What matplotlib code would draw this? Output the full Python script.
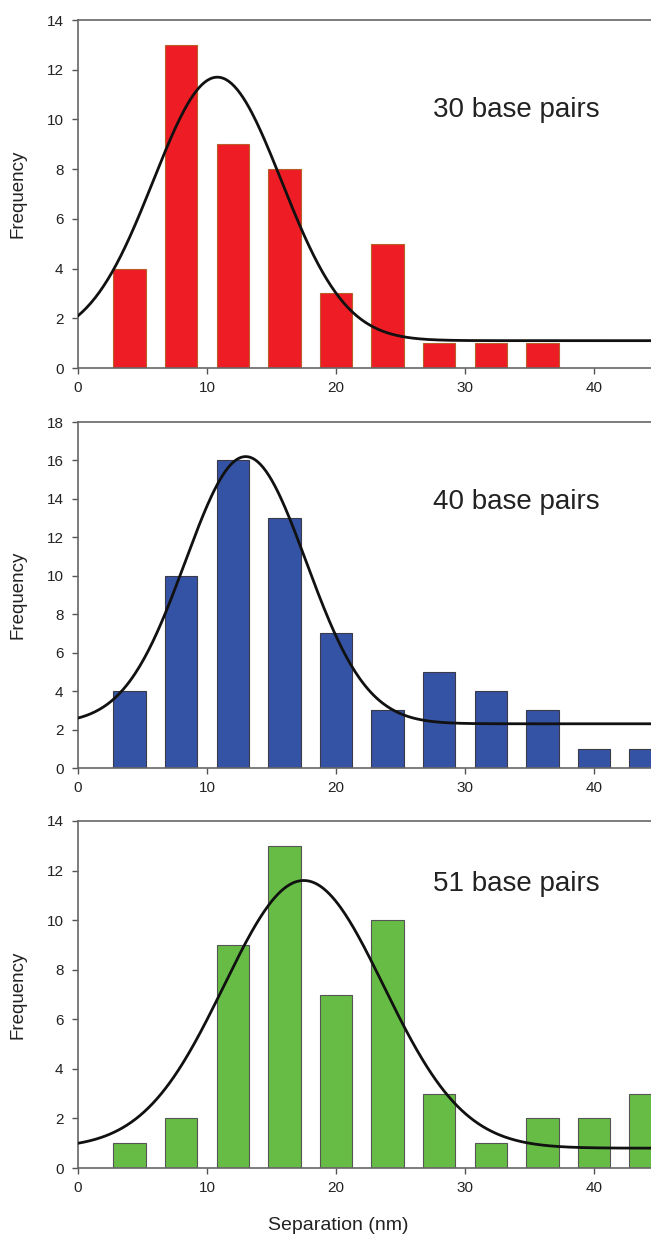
import numpy as np
import matplotlib
matplotlib.use("Agg")
import matplotlib.pyplot as plt

plt.rcParams['font.family'] = ['Liberation Sans', 'DejaVu Sans']

# Bin centres (nm)
centers_30 = [4, 8, 12, 16, 20, 24, 28, 32, 36]
counts_30 = [4, 13, 9, 8, 3, 5, 1, 1, 1]

centers_40 = [4, 8, 12, 16, 20, 24, 28, 32, 36, 40, 44]
counts_40 = [4, 10, 16, 13, 7, 3, 5, 4, 3, 1, 1]

centers_51 = [4, 8, 12, 16, 20, 24, 28, 32, 36, 40, 44]
counts_51 = [1, 2, 9, 13, 7, 10, 3, 1, 2, 2, 3]

# Gaussian fit parameters: baseline, amplitude, centre, sigma
fit_30 = (1.1, 10.6, 10.8, 4.97)
fit_40 = (2.3, 13.9, 13.0, 4.69)
fit_51 = (0.8, 10.8, 17.5, 6.19)

labels = ["30 base pairs", "40 base pairs", "51 base pairs"]
ymaxes = [14, 18, 14]
yticks = [list(range(0, 15, 2)), list(range(0, 19, 2)), list(range(0, 15, 2))]
xticks = [0, 10, 20, 30, 40]

face_colors = ["#EE1C25", "#3553A4", "#67BC45"]
edge_colors = ["#B8602A", "#3A3A4A", "#555555"]

W, H = 651, 1235
fig = plt.figure(figsize=(W / 100, H / 100), dpi=100)

left_px = 78
axis_bottoms_px = [368, 768, 1168]
axis_tops_px = [20, 422, 821]
label_y_px = [110, 502, 884]
px_per_unit = 12.9
xmax = (W - left_px) / px_per_unit

data = [(centers_30, counts_30, fit_30), (centers_40, counts_40, fit_40),
        (centers_51, counts_51, fit_51)]

for i, (cent, cnt, fit) in enumerate(data):
    b = 1 - axis_bottoms_px[i] / H
    h = (axis_bottoms_px[i] - axis_tops_px[i]) / H
    ax = fig.add_axes([left_px / W, b, 1 - left_px / W, h])
    ax.bar(cent, cnt, width=2.5, color=face_colors[i], edgecolor=edge_colors[i],
           linewidth=0.8, zorder=2)
    y0, a, mu, s = fit
    xs = np.linspace(0, xmax, 400)
    ax.plot(xs, y0 + a * np.exp(-(xs - mu) ** 2 / (2 * s ** 2)), color="#111111",
            lw=2.0, zorder=3)
    ax.set_xlim(0, xmax)
    ax.set_ylim(0, ymaxes[i])
    ax.set_xticks(xticks)
    ax.set_yticks(yticks[i])
    for sp in ["left", "bottom", "top"]:
        ax.spines[sp].set_color("#666666")
        ax.spines[sp].set_linewidth(1.2)
    ax.spines["right"].set_visible(False)
    ax.tick_params(direction="out", length=4.5, width=1.0, color="#555555",
                   labelsize=11, labelcolor="#222222")
    ax.tick_params(axis="y", pad=6)
    ax.tick_params(axis="x", pad=5)
    fig.text(18 / W, 1 - (axis_bottoms_px[i] + axis_tops_px[i]) / 2 / H, "Frequency",
             rotation=90, fontsize=13.5, color="#222222", ha="center", va="center")
    ax.text(27.5, (axis_bottoms_px[i] - label_y_px[i]) / (axis_bottoms_px[i] - axis_tops_px[i]) * ymaxes[i],
            labels[i], fontsize=20, color="#222222", va="center", ha="left")

fig.text(338 / W, 1 - 1225 / H, "Separation (nm)", fontsize=14, color="#222222",
         ha="center", va="center")

fig.savefig("out.png", dpi=100)
